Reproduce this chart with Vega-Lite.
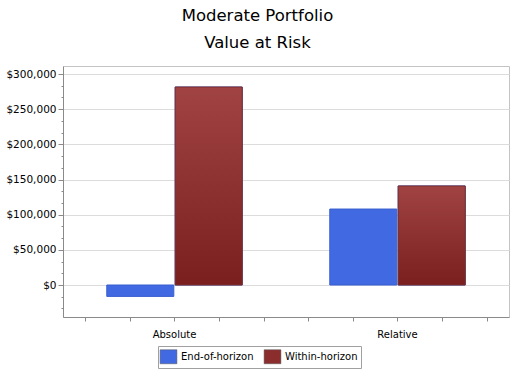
{
  "$schema": "https://vega.github.io/schema/vega-lite/v6.json",
  "width": 446,
  "height": 251,
  "autosize": {"type": "none"},
  "padding": {"left": 63, "top": 66, "right": 11, "bottom": 61},
  "background": "white",
  "title": {
    "text": ["Moderate Portfolio", "Value at Risk"],
    "font": "DejaVu Sans",
    "fontSize": 16.5,
    "fontWeight": "normal",
    "lineHeight": 27,
    "anchor": "middle",
    "frame": "bounds",
    "offset": 15,
    "color": "#000"
  },
  "config": {
    "view": {"stroke": "#c4c4c4"},
    "axis": {
      "labelFont": "DejaVu Sans",
      "labelFontSize": 10,
      "labelColor": "#000",
      "domainColor": "#8a8a8a",
      "tickColor": "#8a8a8a",
      "gridColor": "#dcdcdc",
      "title": null
    },
    "legend": {"labelFont": "DejaVu Sans", "labelFontSize": 10, "labelColor": "#000"}
  },
  "data": {
    "values": [
      {"category": "Absolute", "series": "End-of-horizon", "value": -16200},
      {"category": "Absolute", "series": "Within-horizon", "value": 281500},
      {"category": "Relative", "series": "End-of-horizon", "value": 108000},
      {"category": "Relative", "series": "Within-horizon", "value": 140800}
    ]
  },
  "layer": [
    {
      "layer": [
        {
          "mark": {"type": "bar", "strokeWidth": 1, "stroke": "#3a5fd0"},
          "encoding": {
            "x": {
              "field": "category",
              "type": "nominal",
              "scale": {"domain": ["Absolute", "Relative"], "paddingInner": 0, "paddingOuter": 0},
              "axis": {"labelAngle": 0, "tickSize": 4, "labelPadding": 8, "grid": false}
            },
            "xOffset": {
              "field": "series",
              "type": "nominal",
              "scale": {"domain": ["End-of-horizon", "Within-horizon"], "paddingInner": 0.02, "paddingOuter": 0.64}
            },
            "y": {
              "field": "value",
              "type": "quantitative",
              "scale": {"domain": [-45500, 311400], "nice": false, "zero": false},
              "axis": {
                "values": [0, 50000, 100000, 150000, 200000, 250000, 300000],
                "format": "$,.0f",
                "labelOverlap": false,
                "labelFontSize": 10.5,
                "tickSize": 5,
                "labelPadding": 2,
                "grid": true
              }
            },
            "color": {
              "field": "series",
              "type": "nominal",
              "scale": {"domain": ["End-of-horizon", "Within-horizon"], "range": ["#4169e1", "#8b2d2d"]},
              "legend": {
                "title": null,
                "orient": "none",
                "direction": "horizontal",
                "legendX": 95,
                "legendY": 280,
                "strokeColor": "#a0a0a0",
                "padding": 3,
                "symbolType": "M-1.2,-1H1.2V1H-1.2Z",
                "symbolSize": 196,
                "symbolOpacity": 1,
                "symbolStrokeColor": "#555",
                "symbolStrokeWidth": 0.5,
                "labelOffset": 5,
                "columnPadding": 9
              }
            }
          }
        },
        {
          "transform": [{"filter": "datum.series === 'Within-horizon'"}],
          "mark": {
            "type": "bar",
            "stroke": "#7a3030",
            "strokeWidth": 1,
            "color": {
              "gradient": "linear",
              "x1": 0, "y1": 0, "x2": 0, "y2": 1,
              "stops": [{"offset": 0, "color": "#a14343"}, {"offset": 1, "color": "#7a1e1e"}]
            }
          },
          "encoding": {
            "x": {"field": "category", "type": "nominal"},
            "xOffset": {"field": "series", "type": "nominal"},
            "y": {"field": "value", "type": "quantitative"}
          }
        }
      ]
    },
    {
      "mark": {"type": "point", "opacity": 0},
      "encoding": {
        "x": {
          "datum": 5,
          "type": "quantitative",
          "scale": {"domain": [0, 10], "nice": false},
          "axis": {
            "orient": "bottom",
            "values": [0.5, 1.5, 3.5, 4.5, 5.5, 6.5, 8.5, 9.5],
            "labels": false,
            "domain": false,
            "grid": false,
            "tickSize": 4
          }
        },
        "y": {
          "datum": 0,
          "type": "quantitative",
          "scale": {"domain": [-45500, 311400], "nice": false, "zero": false},
          "axis": {
            "orient": "left",
            "values": [-33333.333, -16666.667, 16666.667, 33333.333, 66666.667, 83333.333, 116666.667, 133333.333, 166666.667, 183333.333, 216666.667, 233333.333, 266666.667, 283333.333],
            "labels": false,
            "domain": false,
            "grid": false,
            "tickSize": 2
          }
        }
      }
    }
  ],
  "resolve": {
    "scale": {"x": "independent", "y": "independent"},
    "axis": {"x": "independent", "y": "independent"}
  }
}
